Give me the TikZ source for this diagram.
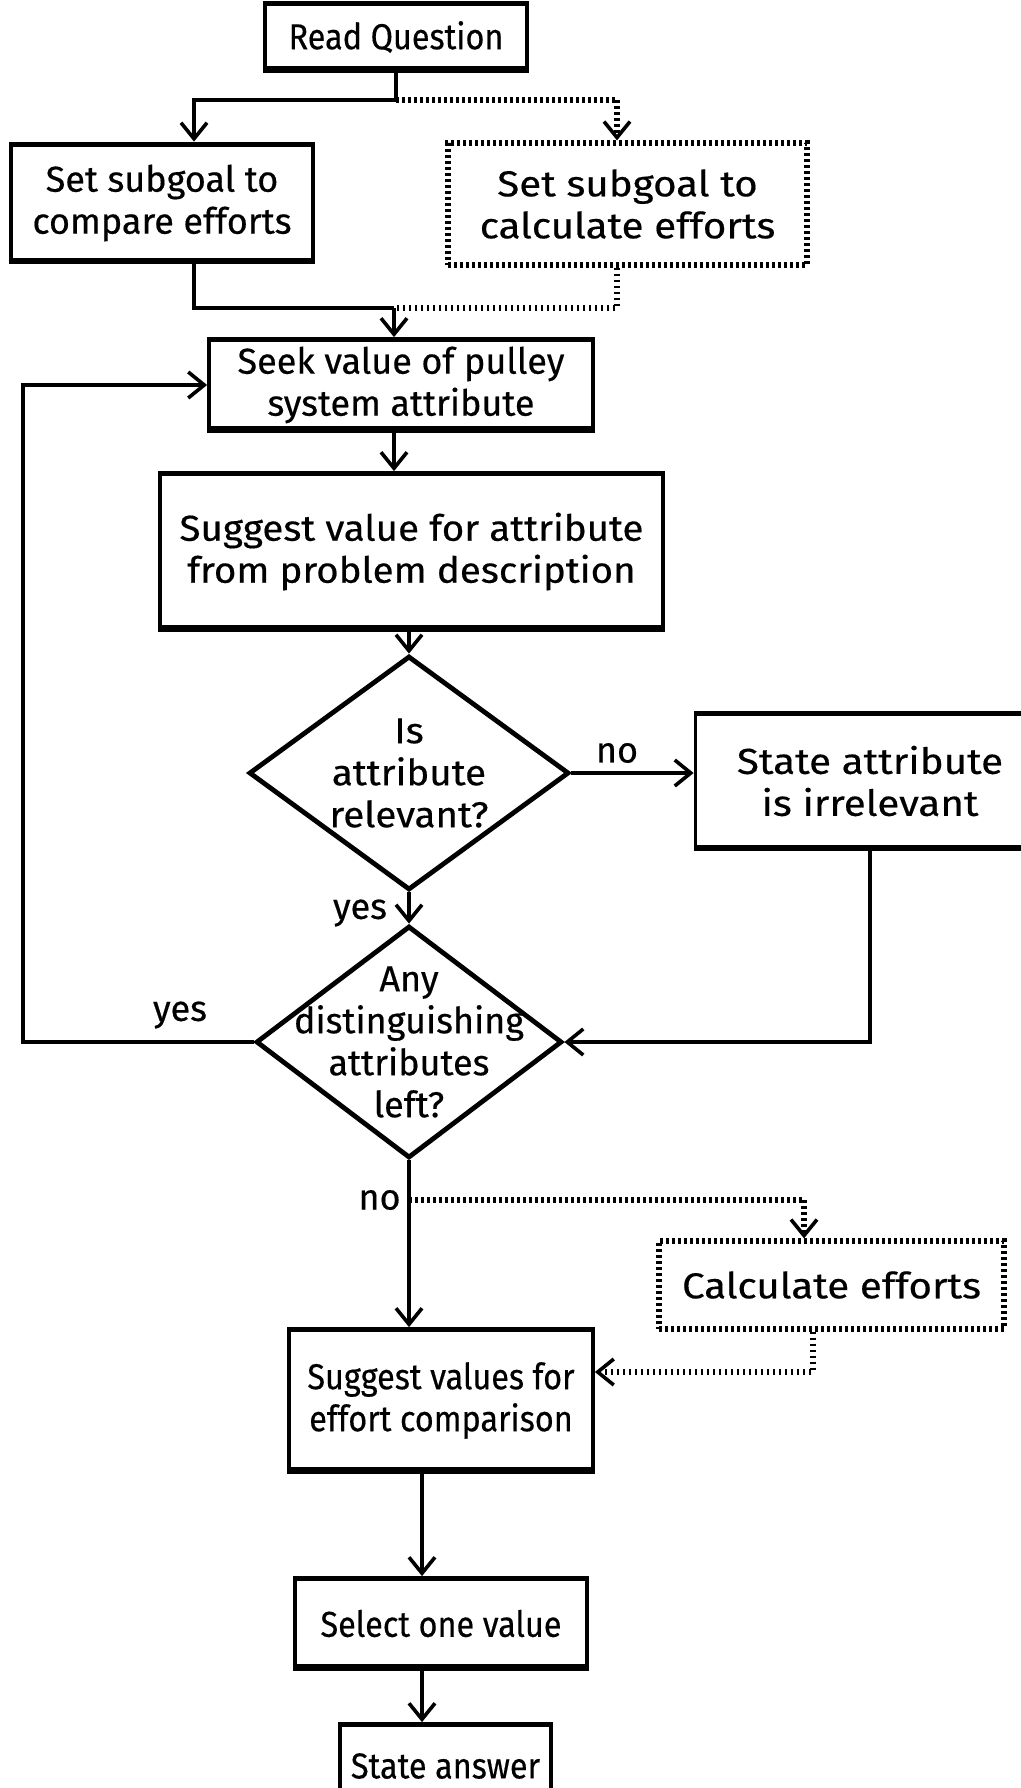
\documentclass[tikz,border=0pt]{standalone}
\usepackage{fontspec}
\setmainfont{Fira Sans}[FakeBold=0.4]
\newfontfamily\fnarrow{Fira Sans}[FakeStretch=0.9,FakeBold=0.4]
\newfontfamily\fwide{Fira Sans}[FakeStretch=1.07,FakeBold=0.4]
\newfontfamily\fwider{Fira Sans}[FakeStretch=1.12,FakeBold=0.4]
\usetikzlibrary{shapes.geometric,arrows.meta}
\begin{document}
\begin{tikzpicture}[x=0.5pt,y=-0.5pt,
  font=\fontsize{18}{21}\selectfont,
  box/.style={draw, line width=1.9pt, align=center, inner sep=0pt,
    path picture={
      \draw[line width=3pt] (path picture bounding box.north west) -- (path picture bounding box.north east);
      \draw[line width=5pt] (path picture bounding box.south west) -- (path picture bounding box.south east);}},
  dbox/.style={draw, line width=2.6pt, dash pattern=on 1.4pt off 1.6pt, align=center, inner sep=0pt},
  dec/.style={draw, diamond, line width=2.4pt, inner sep=0pt},
  dtext/.style={align=center, font=\fontsize{18}{21}\fwide},
  dtextn/.style={align=center, font=\fontsize{18}{21}\selectfont},
  conn/.style={line width=2.1pt, -{Straight Barb[length=8pt,width=13pt,line width=1.8pt]}},
  dconn/.style={line width=2.6pt, dash pattern=on 1.4pt off 1.6pt, -{Straight Barb[length=8pt,width=13pt,line width=1.8pt]}},
  line/.style={line width=2.1pt},
  dline/.style={line width=2.6pt, dash pattern=on 1.4pt off 1.6pt},
  lbl/.style={inner sep=0pt}
]
\useasboundingbox (0,0) rectangle (1021,1788);
\fill[white] (0,0) rectangle (1021,1788);

\node[box, minimum width=131pt, minimum height=34pt, font=\fontsize{18}{21}\fnarrow] (rq) at (396,37) {Read Question};
\node[box, minimum width=151pt, minimum height=59.5pt] (cmp) at (162,203) {Set subgoal to\\compare efforts};
\node[dbox, minimum width=179.5pt, minimum height=61pt, font=\fontsize{18}{21}\fwider] (calc) at (627.5,204) {Set subgoal to\\calculate efforts};
\node[box, minimum width=192pt, minimum height=46pt] (seek) at (401,385) {Seek value of pulley\\system attribute};
\node[box, minimum width=251.5pt, minimum height=78.5pt, font=\fontsize{18}{21}\fwide] (sug) at (411.5,551.5) {Suggest value for attribute\\from problem description};
\node[dec, minimum width=160pt, minimum height=117pt, label={[dtext]center:Is\\attribute\\relevant?}] (d1) at (409,773) {};
\node[box, minimum width=174.5pt, minimum height=68.5pt, font=\fontsize{18}{21}\fwider] (st) at (870,781) {State attribute\\is irrelevant};
\node[dec, minimum width=153pt, minimum height=116pt, label={[dtextn]center:Any\\distinguishing\\attributes\\left?}] (d2) at (409,1042) {};
\node[dbox, minimum width=172.5pt, minimum height=44pt, font=\fontsize{18}{21}\fwider] (ce) at (831.5,1285) {Calculate efforts};
\node[box, minimum width=152pt, minimum height=71.5pt, font=\fontsize{18}{21}\fnarrow] (sv) at (441,1400.5) {Suggest values for\\effort comparison};
\node[box, minimum width=146pt, minimum height=45.5pt, font=\fontsize{18}{21}\fnarrow] (sel) at (441,1623.5) {Select one value};
\node[box, minimum width=105.5pt, minimum height=42pt, font=\fontsize{18}{21}\fnarrow] (ans) at (445.5,1766) {State answer};

% split after Read Question
\coordinate (s1) at (396,100);
\coordinate (s1l) at (194,100);
\coordinate (s1r) at (617,100);
\draw[line] (rq.south -| s1) -- (s1);
\draw[conn] (s1) -- (s1l) -- (s1l |- cmp.north);
\draw[dline] (s1) -- (s1r);
\draw[dconn] (s1r) -- (s1r |- calc.north);

% merge into Seek
\coordinate (m) at (394,308);
\coordinate (ml) at (194,308);
\coordinate (mr) at (617,308);
\draw[line] (cmp.south -| ml) -- (ml) -- (m);
\draw[dline] (calc.south -| mr) -- (mr) -- (m);
\draw[conn] (m) -- (m |- seek.north);

\draw[conn] (seek.south -| m) -- (m |- sug.north);
\draw[conn] (sug.south -| d1.north) -- (d1.north);

\draw[conn] (d1.east) -- (d1.east -| st.west);
\node[lbl] (no1) at (617,753) {no};

\draw[conn] (d1.south) -- (d2.north);
\node[lbl] (yes1) at (360,913) {yes};

\draw[conn] (st.south) |- (d2.east);

\coordinate (lp) at (23,0);
\draw[conn] (d2.west) -| (lp |- seek.west) -- (seek.west);
\node[lbl] (yes2) at (180,1015) {yes};

\draw[conn] (d2.south) -- (d2.south |- sv.north);
\node[lbl, anchor=east] (no2) at (401,1200) {no};

\coordinate (nb) at (409,1200);
\coordinate (nr) at (804,1200);
\draw[dline] (nb) -- (nr);
\draw[dconn] (nr) -- (nr |- ce.north);

\coordinate (cb) at (813,1372);
\draw[dconn] (ce.south -| cb) -- (cb) -- (cb -| sv.east);

\coordinate (ax) at (422,0);
\draw[conn] (sv.south -| ax) -- (sel.north -| ax);
\draw[conn] (sel.south -| ax) -- (ans.north -| ax);
\end{tikzpicture}
\end{document}
